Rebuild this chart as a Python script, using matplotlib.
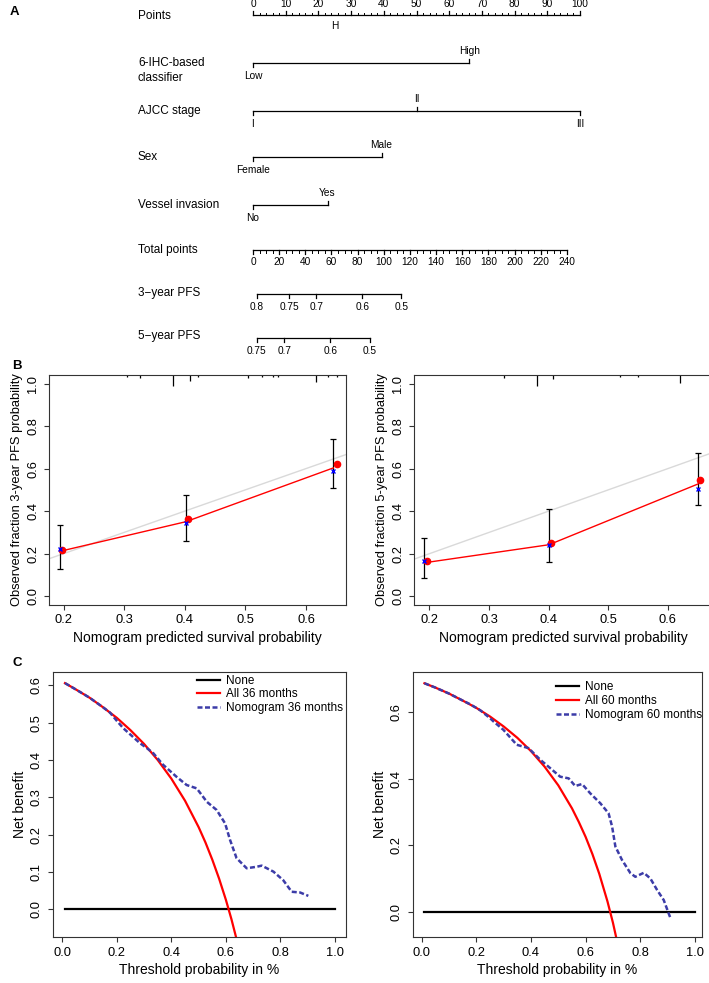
import matplotlib.pyplot as plt
from matplotlib import font_manager
import numpy as np

plt.rcParams.update({
    'font.family': ['Liberation Sans', 'DejaVu Sans'],
    'font.size': 9.3,
    'axes.linewidth': 0.8,
    'axes.edgecolor': '#333333',
    'axes.labelsize': 10,
    'xtick.labelsize': 9.3,
    'ytick.labelsize': 9.3,
    'xtick.major.size': 3.5,
    'ytick.major.size': 3.5,
    'xtick.major.width': 0.8,
    'ytick.major.width': 0.8,
    'xtick.color': '#333333',
    'ytick.color': '#333333',
    'xtick.labelcolor': 'black',
    'ytick.labelcolor': 'black',
})

installed = {f.name for f in font_manager.fontManager.ttflist}
if 'Liberation Sans Narrow' in installed:
    tick_font, fs_tick = 'Liberation Sans Narrow', 8.2
else:
    tick_font, fs_tick = 'Liberation Sans', 7.3

W, H = 709, 983

# --- A: nomogram (points scale)
points_major = np.arange(0, 101, 10)
points_minor = np.arange(0, 101, 2)
classifier_levels = ['Low', 'High']
classifier_pts = [0, 66.2]
ajcc_levels = ['I', 'II', 'III']
ajcc_pts = [0, 50, 100]
sex_levels = ['Female', 'Male']
sex_pts = [0, 39.3]
vessel_levels = ['No', 'Yes']
vessel_pts = [0, 22.8]
total_major = np.arange(0, 241, 20)
total_minor = np.arange(0, 241, 5)
total_per_point = 2.5            # 250 total points = 100 points
pfs3_labels = ['0.8', '0.75', '0.7', '0.6', '0.5']
pfs3_total = [2.8, 27.6, 48.3, 83.5, 113.5]
pfs5_labels = ['0.75', '0.7', '0.6', '0.5']
pfs5_total = [2.8, 23.8, 59.0, 89.4]

# --- B: calibration
cal3_pred = [0.194, 0.4015, 0.645]
cal3_line = [0.211, 0.350, 0.603]
cal3_km_x = [0.197, 0.405, 0.651]
cal3_km = [0.216, 0.361, 0.621]
cal3_cor = [0.224, 0.342, 0.590]
cal3_lo = [0.129, 0.258, 0.507]
cal3_hi = [0.334, 0.477, 0.739]
rug3_x = [0.305, 0.326, 0.381, 0.409, 0.422, 0.505, 0.527, 0.546, 0.553, 0.617, 0.637, 0.651]
rug3_f = [0.15, 0.3, 1.0, 0.55, 0.15, 0.3, 0.15, 0.2, 0.2, 0.65, 0.15, 0.15]

cal5_pred = [0.191, 0.4005, 0.650]
cal5_line = [0.157, 0.242, 0.527]
cal5_km_x = [0.195, 0.404, 0.654]
cal5_km = [0.164, 0.251, 0.544]
cal5_cor = [0.165, 0.242, 0.506]
cal5_lo = [0.085, 0.160, 0.427]
cal5_hi = [0.272, 0.409, 0.672]
rug5_x = [0.325, 0.380, 0.407, 0.519, 0.550, 0.621]
rug5_f = [0.3, 1.0, 0.35, 0.15, 0.15, 0.7]

# --- C: decision curves
all36_t = [0.01, 0.05, 0.10, 0.15, 0.20, 0.25, 0.30, 0.35, 0.40, 0.45, 0.50, 0.525, 0.55, 0.575, 0.60, 0.62, 0.64]
all36_nb = [0.606, 0.589, 0.567, 0.541, 0.513, 0.480, 0.443, 0.400, 0.350, 0.291, 0.220, 0.179, 0.133, 0.082, 0.025, -0.026, -0.083]
nom36_t = [0.01, 0.05, 0.10, 0.15, 0.175, 0.20, 0.224, 0.25, 0.285, 0.31, 0.334, 0.370, 0.419, 0.456, 0.493,
           0.530, 0.566, 0.597, 0.615, 0.639, 0.676, 0.713, 0.731, 0.774, 0.810, 0.841, 0.872, 0.902]
nom36_nb = [0.606, 0.589, 0.567, 0.541, 0.527, 0.505, 0.485, 0.468, 0.445, 0.432, 0.418, 0.387, 0.355, 0.333, 0.324,
            0.288, 0.266, 0.230, 0.186, 0.137, 0.110, 0.114, 0.117, 0.101, 0.078, 0.047, 0.045, 0.036]

all60_t = [0.01, 0.05, 0.10, 0.15, 0.20, 0.25, 0.30, 0.35, 0.40, 0.45, 0.50, 0.55, 0.575, 0.60, 0.625, 0.65, 0.68, 0.70, 0.72]
all60_nb = [0.687, 0.674, 0.656, 0.635, 0.613, 0.587, 0.557, 0.523, 0.483, 0.436, 0.380, 0.311, 0.270, 0.225, 0.173, 0.114, 0.031, -0.033, -0.107]
nom60_t = [0.01, 0.05, 0.10, 0.15, 0.177, 0.214, 0.25, 0.263, 0.299, 0.348, 0.391, 0.434, 0.470, 0.507, 0.538,
           0.562, 0.587, 0.617, 0.654, 0.684, 0.697, 0.709, 0.733, 0.764, 0.782, 0.813, 0.837, 0.862, 0.886, 0.904, 0.911]
nom60_nb = [0.687, 0.674, 0.656, 0.635, 0.624, 0.606, 0.582, 0.572, 0.547, 0.502, 0.492, 0.457, 0.432, 0.406, 0.401,
            0.378, 0.384, 0.356, 0.326, 0.296, 0.256, 0.196, 0.156, 0.116, 0.105, 0.117, 0.100, 0.065, 0.035, -0.005, -0.020]
none_t = [0.01, 1.0]
none_nb = [0, 0]

fig = plt.figure(figsize=(W / 100, H / 100), dpi=100)


def px_axes(x0, y0, x1, y1):
    return fig.add_axes([x0 / W, 1 - y1 / H, (x1 - x0) / W, (y1 - y0) / H])


# ---------------- A ----------------
ax = px_axes(0, 0, W, 365)
ax.set_xlim(-253 / 3.27, (W - 253) / 3.27)
ax.set_ylim(365, 0)
ax.axis('off')
lw = 0.9
lab_x = -35.2
fs_lab = 8.5


def tick_text(x, y, s):
    ax.text(x, y, s, ha='center', va='center', fontsize=fs_tick, family=[tick_font, 'DejaVu Sans'])


def cat_row(y, pts, levels):
    ax.plot([min(pts), max(pts)], [y, y], color='black', lw=lw)
    for i, (p, lev) in enumerate(zip(pts, levels)):
        up = (i % 2 == 1)
        ax.plot([p, p], [y, y - 4 if up else y + 4], color='black', lw=lw)
        tick_text(p, y - 12 if up else y + 13, lev)


# points axis
y = 15
ax.plot([0, 100], [y, y], color='black', lw=lw)
for p in points_minor:
    ax.plot([p, p], [y, y - 2.5], color='black', lw=0.7)
for p in points_major:
    ax.plot([p, p], [y, y - 4.5], color='black', lw=lw)
    tick_text(p, y - 11, f'{p:d}')
ax.text(lab_x, 16, 'Points', va='center', fontsize=fs_lab)
tick_text(25.1, 26, 'H')

ax.text(lab_x, 70.5, '6-IHC-based\nclassifier', va='center', fontsize=fs_lab, linespacing=1.3)
cat_row(63.3, classifier_pts, classifier_levels)
ax.text(lab_x, 110.7, 'AJCC stage', va='center', fontsize=fs_lab)
cat_row(110.7, ajcc_pts, ajcc_levels)
ax.text(lab_x, 156.7, 'Sex', va='center', fontsize=fs_lab)
cat_row(156.7, sex_pts, sex_levels)
ax.text(lab_x, 205, 'Vessel invasion', va='center', fontsize=fs_lab)
cat_row(204.7, vessel_pts, vessel_levels)

# total points
y = 250
ax.text(lab_x, y, 'Total points', va='center', fontsize=fs_lab)
ax.plot([0, total_major[-1] / total_per_point], [y, y], color='black', lw=lw)
for t in total_minor:
    ax.plot([t / total_per_point] * 2, [y, y + 2.5], color='black', lw=0.7)
for t in total_major:
    ax.plot([t / total_per_point] * 2, [y, y + 4], color='black', lw=lw)
    tick_text(t / total_per_point, y + 12, f'{t:d}')


def prob_row(y, totals, labels, name):
    ax.text(lab_x, y - 1, name, va='center', fontsize=fs_lab)
    xs = [t / total_per_point for t in totals]
    ax.plot([xs[0], xs[-1]], [y, y], color='black', lw=lw)
    for x, lab in zip(xs, labels):
        ax.plot([x, x], [y, y + 4], color='black', lw=lw)
        tick_text(x, y + 13, lab)


prob_row(294, pfs3_total, pfs3_labels, '3\u2212year PFS')
prob_row(337.5, pfs5_total, pfs5_labels, '5\u2212year PFS')


# ---------------- B ----------------
def calib(axb, pred, line, km_x, km, cor, lo, hi, rug_x, rug_f, xlim, ylabel):
    axb.plot(xlim, xlim, color='#d9d9d9', lw=1)
    axb.errorbar(pred, km, yerr=[np.array(km) - np.array(lo), np.array(hi) - np.array(km)],
                 fmt='none', ecolor='black', elinewidth=0.9, capsize=2.5, capthick=0.9)
    axb.plot(pred, line, color='red', lw=1)
    axb.plot(km_x, km, 'o', color='red', ms=4.5)
    axb.plot(pred, cor, 'x', color='blue', ms=3.5, mew=1)
    axb.vlines(rug_x, 1.04 - np.array(rug_f) * 0.052, 1.04, color='black', lw=0.9)
    axb.set_xlim(xlim)
    axb.set_ylim(-0.04, 1.04)
    axb.set_xticks([0.2, 0.3, 0.4, 0.5, 0.6])
    axb.set_yticks([0.0, 0.2, 0.4, 0.6, 0.8, 1.0])
    axb.set_xlabel('Nomogram predicted survival probability', labelpad=3)
    axb.set_ylabel(ylabel, labelpad=3, fontsize=9.3)
    axb.tick_params(axis='y', labelrotation=90)
    for t in axb.get_yticklabels():
        t.set_va('center')


ax_b1 = px_axes(49, 375, 346, 604.7)
calib(ax_b1, cal3_pred, cal3_line, cal3_km_x, cal3_km, cal3_cor, cal3_lo, cal3_hi, rug3_x, rug3_f,
      (0.176, 0.666), 'Observed fraction 3-year PFS probability')
ax_b2 = px_axes(414, 375, 712, 604.7)
calib(ax_b2, cal5_pred, cal5_line, cal5_km_x, cal5_km, cal5_cor, cal5_lo, cal5_hi, rug5_x, rug5_f,
      (0.174, 0.674), 'Observed fraction 5-year PFS probability')


# ---------------- C ----------------
def dca(axc, t_all, nb_all, t_nom, nb_nom, months, xlim, ylim, yticks, anchor):
    axc.plot(none_t, none_nb, color='black', lw=1.6, label='None')
    axc.plot(t_all, nb_all, color='red', lw=1.6, label=f'All {months} months')
    axc.plot(t_nom, nb_nom, color='#3c3ca8', lw=1.8, ls=(0, (2, 1)), label=f'Nomogram {months} months')
    axc.set_xlim(xlim)
    axc.set_ylim(ylim)
    axc.set_xticks([0.0, 0.2, 0.4, 0.6, 0.8, 1.0])
    axc.set_yticks(yticks)
    axc.set_xlabel('Threshold probability in %', labelpad=3)
    axc.set_ylabel('Net benefit', labelpad=3)
    axc.tick_params(axis='y', labelrotation=90)
    for t in axc.get_yticklabels():
        t.set_va('center')
    axc.legend(loc='upper right', bbox_to_anchor=anchor, frameon=False, fontsize=8.5,
               handlelength=2.0, handletextpad=0.5, labelspacing=0.15, borderpad=0.1, borderaxespad=0.1)


ax_c1 = px_axes(52.7, 672.3, 345.7, 937.3)
dca(ax_c1, all36_t, all36_nb, nom36_t, nom36_nb, 36, (-0.035, 1.039), (-0.075, 0.635),
    [0.0, 0.1, 0.2, 0.3, 0.4, 0.5, 0.6], (1.0, 1.0))
ax_c2 = px_axes(412.7, 672.3, 701.7, 937.3)
dca(ax_c2, all60_t, all60_nb, nom60_t, nom60_nb, 60, (-0.033, 1.025), (-0.077, 0.72),
    [0.0, 0.2, 0.4, 0.6], (1.01, 0.975))

for letter, (px, py) in zip('ABC', [(10, 12), (12, 366), (12, 663)]):
    fig.text(px / W, 1 - py / H, letter, fontsize=9.5, fontweight='bold', va='center')

fig.savefig('out.png', dpi=100)
